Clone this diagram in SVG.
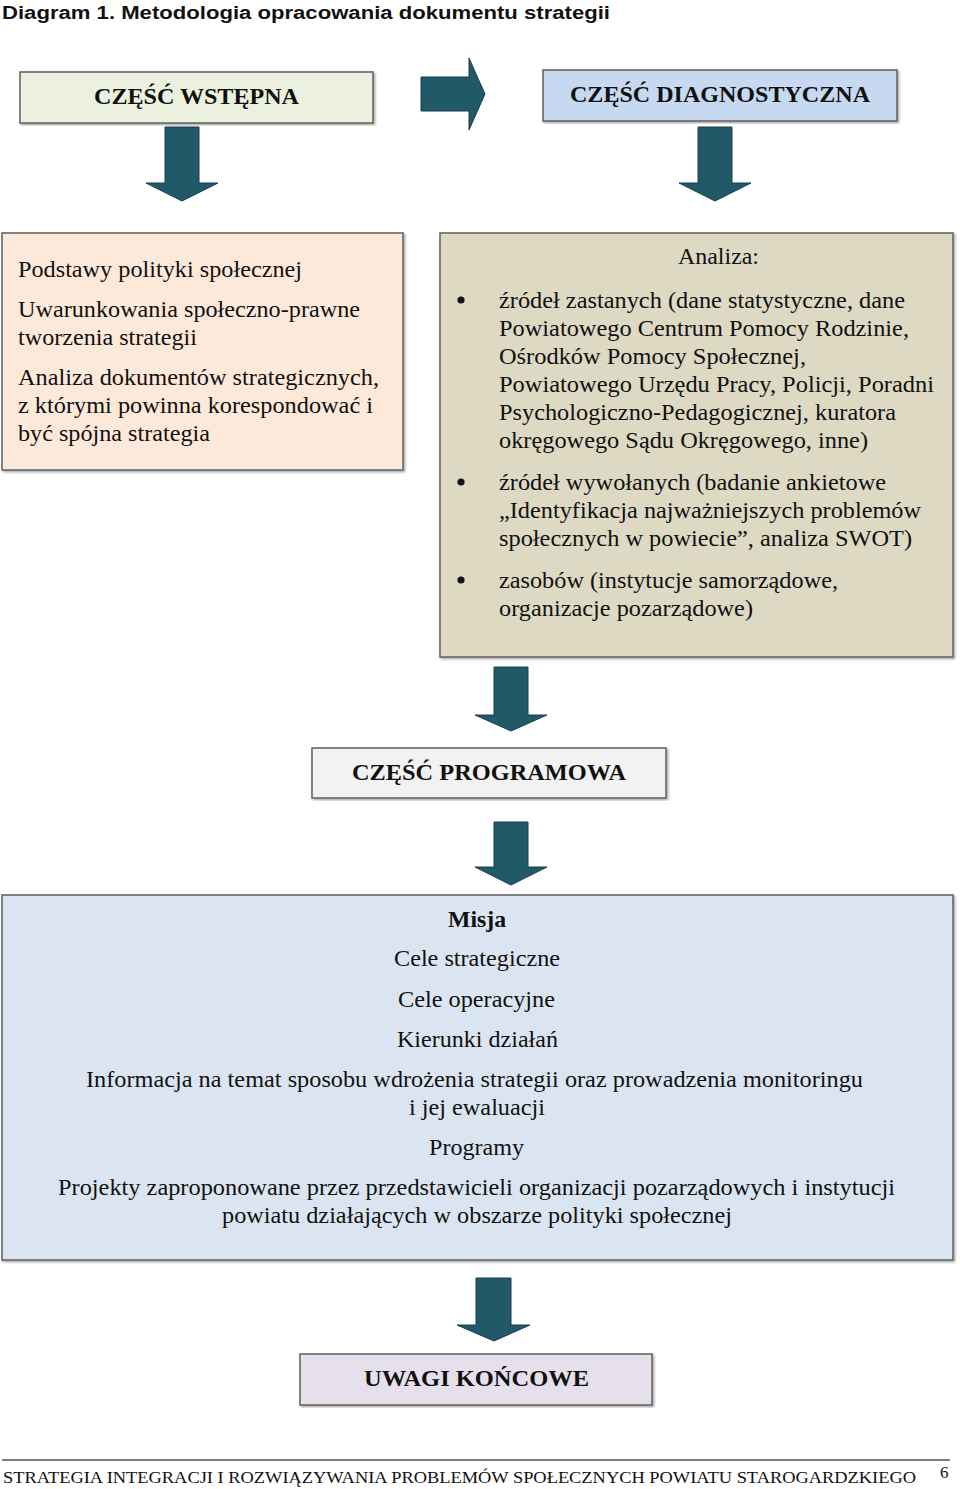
<svg xmlns="http://www.w3.org/2000/svg" width="960" height="1489" viewBox="0 0 960 1489">
<style>
.box{stroke:#5f5f5f;stroke-width:1.5}
.arr{fill:#215968;stroke:#163f4a;stroke-width:1}
.t{font-family:"Liberation Serif","Times New Roman",serif;font-size:23px;fill:#111}
.h{font-family:"Liberation Serif","Times New Roman",serif;font-size:24px;font-weight:bold;fill:#111;text-anchor:middle}
.c{text-anchor:middle}
</style>
<defs>
<filter id="sh" x="-5%" y="-5%" width="110%" height="110%"><feDropShadow dx="1.5" dy="1.5" stdDeviation="0.8" flood-color="#000" flood-opacity="0.35"/></filter>
</defs>
<rect width="960" height="1489" fill="#fff"/>
<text x="2" y="19" font-family="Liberation Sans,Arial,sans-serif" font-size="18" font-weight="bold" fill="#111" textLength="608" lengthAdjust="spacingAndGlyphs">Diagram 1. Metodologia opracowania dokumentu strategii</text>

<g id="connectors">
<polygon class="arr" points="421,77 469,77 469,58 485,94 469,130 469,111 421,111"/>
<polygon class="arr" points="165,127 199,127 199,183 218,183 182,201 146,183 165,183"/>
<polygon class="arr" points="698,127 732,127 732,183 751,183 715,201 679,183 698,183"/>
<polygon class="arr" points="494,667 528,667 528,715 547,715 511,731 475,715 494,715"/>
<polygon class="arr" points="494,822 528,822 528,867 547,867 511,885 475,867 494,867"/>
<polygon class="arr" points="476,1278 511,1278 511,1325 530,1325 494,1341 457,1325 476,1325"/>
</g>

<g id="wstepna">
<rect class="box" x="20" y="72" width="353" height="51" fill="#ebf1de" filter="url(#sh)"/>
<text class="h" x="196.5" y="104" textLength="205" lengthAdjust="spacingAndGlyphs">CZĘŚĆ WSTĘPNA</text>
</g>

<g id="diagnostyczna">
<rect class="box" x="543" y="70" width="354" height="51" fill="#c6d9f1" filter="url(#sh)"/>
<text class="h" x="720" y="102" textLength="300" lengthAdjust="spacingAndGlyphs">CZĘŚĆ DIAGNOSTYCZNA</text>
</g>

<g id="podstawy">
<rect class="box" x="2" y="233" width="401" height="237" fill="#fde9d9" filter="url(#sh)"/>
<text class="t" x="18" y="277" textLength="284" lengthAdjust="spacingAndGlyphs">Podstawy polityki społecznej</text>
<text class="t" x="18" y="317" textLength="342" lengthAdjust="spacingAndGlyphs">Uwarunkowania społeczno-prawne</text>
<text class="t" x="18" y="345" textLength="179" lengthAdjust="spacingAndGlyphs">tworzenia strategii</text>
<text class="t" x="18" y="385" textLength="361" lengthAdjust="spacingAndGlyphs">Analiza dokumentów strategicznych,</text>
<text class="t" x="18" y="413" textLength="355" lengthAdjust="spacingAndGlyphs">z którymi powinna korespondować i</text>
<text class="t" x="18" y="441" textLength="192" lengthAdjust="spacingAndGlyphs">być spójna strategia</text>
</g>

<g id="analiza">
<rect class="box" x="440" y="233" width="513" height="424" fill="#ddd9c3" filter="url(#sh)"/>
<text class="t c" x="718.5" y="264" textLength="81" lengthAdjust="spacingAndGlyphs">Analiza:</text>
<circle cx="461" cy="300" r="3.6" fill="#111"/>
<circle cx="461" cy="482" r="3.6" fill="#111"/>
<circle cx="461" cy="580" r="3.6" fill="#111"/>
<text class="t" x="499" y="308" textLength="406" lengthAdjust="spacingAndGlyphs">źródeł zastanych (dane statystyczne, dane</text>
<text class="t" x="499" y="336" textLength="410" lengthAdjust="spacingAndGlyphs">Powiatowego Centrum Pomocy Rodzinie,</text>
<text class="t" x="499" y="364" textLength="307" lengthAdjust="spacingAndGlyphs">Ośrodków Pomocy Społecznej,</text>
<text class="t" x="499" y="392" textLength="435" lengthAdjust="spacingAndGlyphs">Powiatowego Urzędu Pracy, Policji, Poradni</text>
<text class="t" x="499" y="420" textLength="397" lengthAdjust="spacingAndGlyphs">Psychologiczno-Pedagogicznej, kuratora</text>
<text class="t" x="499" y="448" textLength="369" lengthAdjust="spacingAndGlyphs">okręgowego Sądu Okręgowego, inne)</text>
<text class="t" x="499" y="490" textLength="387" lengthAdjust="spacingAndGlyphs">źródeł wywołanych (badanie ankietowe</text>
<text class="t" x="499" y="518" textLength="422" lengthAdjust="spacingAndGlyphs">„Identyfikacja najważniejszych problemów</text>
<text class="t" x="499" y="546" textLength="413" lengthAdjust="spacingAndGlyphs">społecznych w powiecie”, analiza SWOT)</text>
<text class="t" x="499" y="588" textLength="339" lengthAdjust="spacingAndGlyphs">zasobów (instytucje samorządowe,</text>
<text class="t" x="499" y="616" textLength="254" lengthAdjust="spacingAndGlyphs">organizacje pozarządowe)</text>
</g>

<g id="programowa">
<rect class="box" x="312" y="748" width="354" height="50" fill="#f2f2f2" filter="url(#sh)"/>
<text class="h" x="489" y="780" textLength="274" lengthAdjust="spacingAndGlyphs">CZĘŚĆ PROGRAMOWA</text>
</g>

<g id="misja">
<rect class="box" x="2" y="895" width="951" height="365" fill="#dbe5f1" filter="url(#sh)"/>
<text class="t c" x="477" y="927" font-weight="bold" textLength="58" lengthAdjust="spacingAndGlyphs">Misja</text>
<text class="t c" x="477" y="966" textLength="166" lengthAdjust="spacingAndGlyphs">Cele strategiczne</text>
<text class="t c" x="476.5" y="1007" textLength="157" lengthAdjust="spacingAndGlyphs">Cele operacyjne</text>
<text class="t c" x="477.5" y="1047" textLength="161" lengthAdjust="spacingAndGlyphs">Kierunki działań</text>
<text class="t c" x="474.5" y="1087" textLength="777" lengthAdjust="spacingAndGlyphs">Informacja na temat sposobu wdrożenia strategii oraz prowadzenia monitoringu</text>
<text class="t c" x="477" y="1115" textLength="136" lengthAdjust="spacingAndGlyphs">i jej ewaluacji</text>
<text class="t c" x="476.5" y="1155" textLength="95" lengthAdjust="spacingAndGlyphs">Programy</text>
<text class="t c" x="476.5" y="1195" textLength="837" lengthAdjust="spacingAndGlyphs">Projekty zaproponowane przez przedstawicieli organizacji pozarządowych i instytucji</text>
<text class="t c" x="477" y="1223" textLength="510" lengthAdjust="spacingAndGlyphs">powiatu działających w obszarze polityki społecznej</text>
</g>

<g id="uwagi">
<rect class="box" x="300" y="1354" width="352" height="51" fill="#e5e0ec" filter="url(#sh)"/>
<text class="h" x="476.5" y="1386" textLength="225" lengthAdjust="spacingAndGlyphs">UWAGI KOŃCOWE</text>
</g>

<g id="footer">
<line x1="2" y1="1460" x2="950" y2="1460" stroke="#555" stroke-width="1.5"/>
<text x="3" y="1483" font-family="Liberation Serif,Times New Roman,serif" font-size="17" fill="#111" textLength="913" lengthAdjust="spacingAndGlyphs">STRATEGIA INTEGRACJI I ROZWIĄZYWANIA PROBLEMÓW SPOŁECZNYCH POWIATU STAROGARDZKIEGO</text>
<text x="940" y="1478" font-family="Liberation Serif,Times New Roman,serif" font-size="17" fill="#111">6</text>
</g>
</svg>
